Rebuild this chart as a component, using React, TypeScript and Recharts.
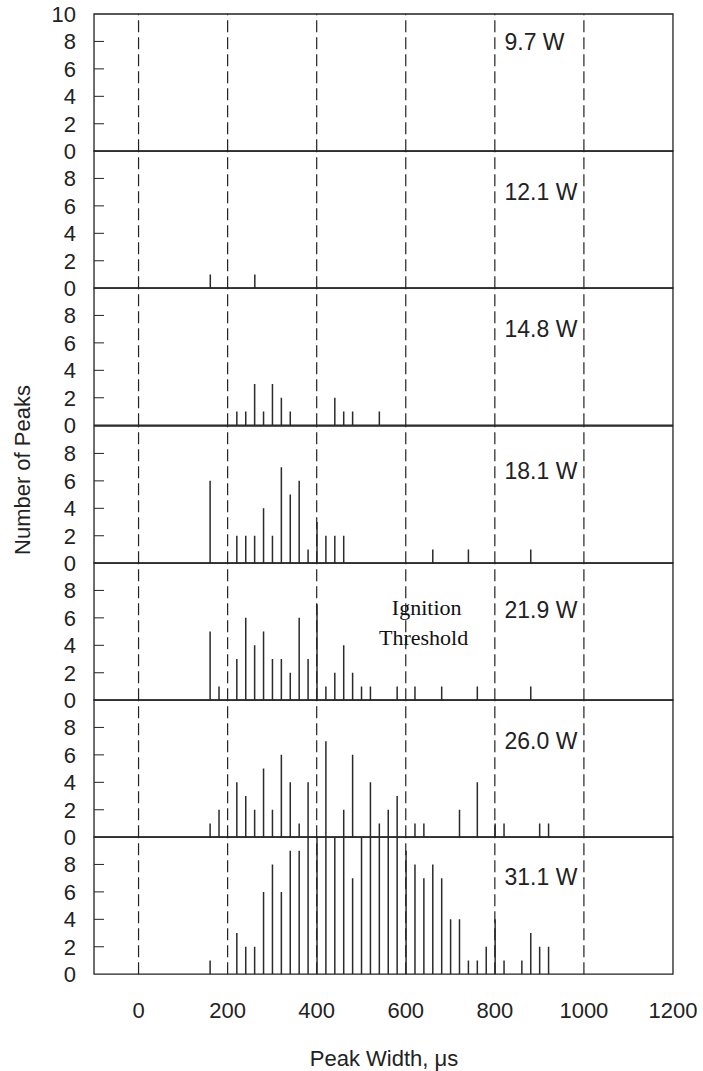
import { ComposedChart, Bar, XAxis, YAxis, ReferenceLine, ReferenceArea, ReferenceDot } from 'recharts';

// one panel per heater power, top to bottom
const powers = ['9.7 W', '12.1 W', '14.8 W', '18.1 W', '21.9 W', '26.0 W', '31.1 W'];
const labelLevels = [8, 7, 7, 6.7, 6.6, 7, 7.1];

// peak widths (µs) and number of peaks per panel
const w097: number[] = [];
const n097: number[] = [];
const w121 = [160, 260];
const n121 = [1, 1];
const w148 = [220, 240, 260, 280, 300, 320, 340, 440, 460, 480, 540];
const n148 = [1, 1, 3, 1, 3, 2, 1, 2, 1, 1, 1];
const w181 = [160, 220, 240, 260, 280, 300, 320, 340, 360, 380, 400, 420, 440, 460, 660, 740, 880];
const n181 = [6, 2, 2, 2, 4, 2, 7, 5, 6, 1, 3, 2, 2, 2, 1, 1, 1];
const w219 = [160, 180, 220, 240, 260, 280, 300, 320, 340, 360, 380, 400, 420, 440, 460, 480, 500, 520, 580, 620, 680, 760, 880];
const n219 = [5, 1, 3, 6, 4, 5, 3, 3, 2, 6, 3, 7, 1, 2, 4, 2, 1, 1, 1, 1, 1, 1, 1];
const w260 = [160, 180, 220, 240, 260, 280, 300, 320, 340, 360, 380, 420, 460, 480, 520, 540, 560, 580, 620, 640, 720, 760, 800, 820, 900, 920];
const n260 = [1, 2, 4, 3, 2, 5, 2, 6, 4, 1, 4, 7, 2, 6, 4, 1, 2, 3, 1, 1, 2, 4, 1, 1, 1, 1];
const w311 = [160, 220, 240, 260, 280, 300, 320, 340, 360, 380, 400, 420, 440, 460, 480, 500, 520, 540, 560, 580, 600, 620, 640, 660, 680, 700, 720, 740, 760, 780, 800, 820, 860, 880, 900, 920];
const n311 = [1, 3, 2, 2, 6, 8, 6, 9, 9, 10, 10, 10, 10, 10, 7, 10, 10, 10, 10, 10, 9, 8, 7, 8, 7, 4, 4, 1, 1, 2, 4, 1, 1, 3, 2, 2];

const widthSets = [w097, w121, w148, w181, w219, w260, w311];
const countSets = [n097, n121, n148, n181, n219, n260, n311];

const xTicks = [0, 200, 400, 600, 800, 1000, 1200];
const dashLines = [0, 200, 400, 600, 800, 1000];

const W = 703;
const PLOT_TOP = 14;
const PANEL_H = 137.2;
const PAD = 14;
const AXIS_W = 94;
const RIGHT = 30;
const INK = '#222';
const SANS = 'Liberation Sans, Arial, sans-serif';

function YTick(props: any) {
  const { x, y, payload } = props;
  const v = payload.value;
  return (
    <g>
      {v > 0 && v < 10 && <line x1={x} x2={x + 10} y1={y} y2={y} stroke={INK} strokeWidth={1} />}
      <text x={x - 18} y={y} dy="0.36em" textAnchor="end" fontSize={22} fill={INK} fontFamily={SANS}>
        {v}
      </text>
    </g>
  );
}

function XTick(props: any) {
  const { x, y, payload } = props;
  return (
    <text x={x} y={y + 36} dy="0.36em" textAnchor="middle" fontSize={22} fill={INK} fontFamily={SANS}>
      {payload.value}
    </text>
  );
}

function Panel({ index }: { index: number }) {
  const last = index === powers.length - 1;
  const data = widthSets[index].map((w, i) => ({ w, n: countSets[index][i] }));
  const axisH = 90;
  const height = PAD + PANEL_H + (last ? axisH : PAD);
  return (
    <div style={{ position: 'absolute', left: 0, top: PLOT_TOP + index * PANEL_H - PAD }}>
      <ComposedChart
        width={W}
        height={height}
        data={data}
        margin={{ top: PAD, right: RIGHT, bottom: last ? 0 : PAD, left: 0 }}
      >
        <XAxis
          type="number"
          dataKey="w"
          domain={[-100, 1200]}
          ticks={xTicks}
          interval={0}
          hide={!last}
          height={axisH}
          axisLine={false}
          tickLine={false}
          tickSize={0}
          tickMargin={0}
          tick={<XTick />}
          allowDataOverflow
        />
        <YAxis
          type="number"
          domain={[0, 10]}
          ticks={index === 0 ? [0, 2, 4, 6, 8, 10] : [0, 2, 4, 6, 8]}
          interval={0}
          width={AXIS_W}
          axisLine={false}
          tickLine={false}
          tickSize={0}
          tickMargin={0}
          tick={<YTick />}
          allowDataOverflow
        />
        <ReferenceArea x1={-100} x2={1200} y1={0} y2={10} fill="none" stroke={INK} strokeWidth={1.3} fillOpacity={0} />
        {dashLines.map((x) => (
          <ReferenceLine key={x} x={x} stroke={INK} strokeWidth={1.2} strokeDasharray="12 5" />
        ))}
        <Bar dataKey="n" barSize={1.5} fill="#2b2b2b" isAnimationActive={false} />
        <ReferenceDot
          x={815}
          y={labelLevels[index]}
          r={0}
          fill="none"
          stroke="none"
          label={{ value: powers[index], position: 'right', offset: 3, fontSize: 23, fill: INK, fontFamily: SANS }}
        />
        {index === 4 && (
          <ReferenceDot
            x={647}
            y={6.8}
            r={0}
            fill="none"
            stroke="none"
            label={{ value: 'Ignition', position: 'center', fontSize: 22, fill: '#111', fontFamily: 'Liberation Serif, Times New Roman, serif' }}
          />
        )}
        {index === 4 && (
          <ReferenceDot
            x={640}
            y={4.6}
            r={0}
            fill="none"
            stroke="none"
            label={{ value: 'Threshold', position: 'center', fontSize: 22, fill: '#111', fontFamily: 'Liberation Serif, Times New Roman, serif' }}
          />
        )}
      </ComposedChart>
    </div>
  );
}

export default function App() {
  return (
    <div
      style={{
        position: 'absolute',
        left: 0,
        top: 0,
        width: W,
        height: 1071,
        overflow: 'hidden',
        background: '#fff',
      }}
    >
      {powers.map((p, i) => (
        <Panel key={p} index={i} />
      ))}
      <svg width={W} height={1071} style={{ position: 'absolute', left: 0, top: 0, pointerEvents: 'none' }}>
        <text
          x={22}
          y={470}
          transform="rotate(-90 22 470)"
          textAnchor="middle"
          dominantBaseline="central"
          fontSize={22}
          fill={INK}
          fontFamily={SANS}
        >
          Number of Peaks
        </text>
        <text x={384} y={1058} textAnchor="middle" dominantBaseline="central" fontSize={22} fill={INK} fontFamily={SANS}>
          Peak Width, μs
        </text>
      </svg>
    </div>
  );
}
